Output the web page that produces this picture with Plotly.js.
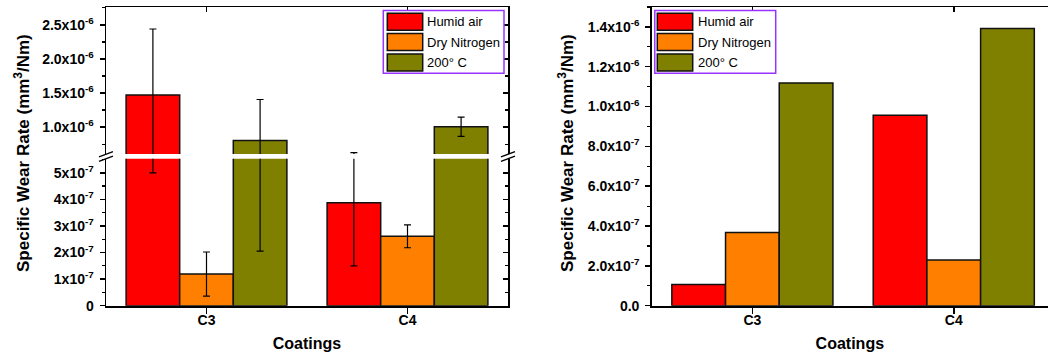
<!DOCTYPE html>
<html>
<head>
<meta charset="utf-8">
<script src="https://cdn.plot.ly/plotly-3.0.1.min.js"></script>
<style>html,body{margin:0;padding:0;background:#fff;}#chart{width:1048px;height:363px;}</style>
</head>
<body>
<div id="chart"></div>
<script>
// ---------- data ----------
const categories = ['C3', 'C4'];
const seriesNames = ['Humid air', 'Dry Nitrogen', '200\u00B0 C'];

// left panel (with error bars)
const leftHumid = [1.47e-6, 3.87e-7];
const leftHumidErr = [0.97e-6, 2.37e-7];
const leftNitrogen = [1.19e-7, 2.61e-7];
const leftNitrogenErr = [0.83e-7, 0.43e-7];
const left200 = [0.805e-6, 1.005e-6];
const left200Err = [0.60e-6, 0.14e-6];

// right panel
const rightHumid = [1.06e-7, 9.56e-7];
const rightNitrogen = [3.68e-7, 2.30e-7];
const right200 = [1.118e-6, 1.392e-6];

// tick labels
const lowerTickVals = [0, 1e-7, 2e-7, 3e-7, 4e-7, 5e-7];
const lowerTickText = ['0', '1x10<sup>-7</sup>', '2x10<sup>-7</sup>', '3x10<sup>-7</sup>', '4x10<sup>-7</sup>', '5x10<sup>-7</sup>'];
const upperTickVals = [1.0e-6, 1.5e-6, 2.0e-6, 2.5e-6];
const upperTickText = ['1.0x10<sup>-6</sup>', '1.5x10<sup>-6</sup>', '2.0x10<sup>-6</sup>', '2.5x10<sup>-6</sup>'];
const rightTickVals = [0, 2e-7, 4e-7, 6e-7, 8e-7, 1.0e-6, 1.2e-6, 1.4e-6];
const rightTickText = ['0.0', '2.0x10<sup>-7</sup>', '4.0x10<sup>-7</sup>', '6.0x10<sup>-7</sup>', '8.0x10<sup>-7</sup>', '1.0x10<sup>-6</sup>', '1.2x10<sup>-6</sup>', '1.4x10<sup>-6</sup>'];
const yTitle = 'Specific Wear Rate (mm<sup>3</sup>/Nm)';
const xTitle = 'Coatings';

// ---------- styles ----------
const colors = ['#ff0000', '#ff8000', '#808000'];
const FONT = 'Liberation Sans, Arial, Helvetica, sans-serif';
const W = 1048, H = 363;
const px = v => v / W;
const py = v => 1 - v / H;

const leftVals = [leftHumid, leftNitrogen, left200];
const leftErrs = [leftHumidErr, leftNitrogenErr, left200Err];
const rightVals = [rightHumid, rightNitrogen, right200];

const traces = [];
function barTrace(i, vals, errs, xa, ya) {
  const t = {
    type: 'bar', x: categories, y: vals, name: seriesNames[i],
    xaxis: xa, yaxis: ya, showlegend: false,
    marker: {color: colors[i], line: {color: '#111', width: 1.5}},
    hoverinfo: 'skip'
  };
  if (errs) t.error_y = {type: 'data', array: errs, visible: true, color: '#000', thickness: 1.2, width: 3.5};
  return t;
}
for (let i = 0; i < 3; i++) traces.push(barTrace(i, leftVals[i], leftErrs[i], 'x', 'y'));
for (let i = 0; i < 3; i++) traces.push(barTrace(i, leftVals[i], leftErrs[i], 'x2', 'y2'));
for (let i = 0; i < 3; i++) traces.push(barTrace(i, rightVals[i], null, 'x3', 'y5'));
// empty helper traces so the overlay (frame) axes get their own subplots
[['x', 'y3'], ['x2', 'y4'], ['x4', 'y5']].forEach(p => {
  traces.push({type: 'scatter', mode: 'lines', x: [null], y: [null], xaxis: p[0], yaxis: p[1], showlegend: false, hoverinfo: 'skip'});
});

const tickFont = {family: FONT, size: 14, color: '#000', weight: 'bold'};
const LDOM = [px(106), px(508)];
const RDOM = [px(651.7), 1];
const FULL = [py(305.7), py(7)];
const LOW = [py(305.7), py(158.7)];
const UP = [py(154), py(7)];
const lowRange = [0, 5.53e-7];
const upRange = [0.605e-6, 2.763e-6];
const xRangeL = [-0.5, 1.5];
const xRangeR = [-0.5, 1.468];

function yAxis(dom, anchor, range, tv, tt, minorDtick, extra) {
  return Object.assign({
    domain: dom, anchor: anchor, range: range, tickmode: 'array', tickvals: tv, ticktext: tt,
    ticks: 'outside', ticklen: 5, tickwidth: 1.5, tickcolor: '#000',
    minor: {tickmode: 'linear', tick0: 0, dtick: minorDtick, ticks: 'outside', ticklen: 3, tickwidth: 1.2, tickcolor: '#000', showgrid: false},
    showline: true, linecolor: '#000', linewidth: 1.5, showgrid: false, zeroline: false,
    tickfont: tickFont, ticklabelstandoff: 3, fixedrange: true
  }, extra || {});
}
function yOverlay(over, anchor, range, tv, minorDtick) {
  return {
    overlaying: over, side: 'right', anchor: anchor, range: range, tickmode: 'array', tickvals: tv,
    ticks: 'inside', ticklen: 5, tickwidth: 1.5, tickcolor: '#000', showticklabels: false,
    minor: {tickmode: 'linear', tick0: 0, dtick: minorDtick, ticks: 'inside', ticklen: 3, tickwidth: 1.2, tickcolor: '#000', showgrid: false},
    showline: true, linecolor: '#000', linewidth: 1.5, showgrid: false, zeroline: false, fixedrange: true
  };
}
const xTitleObj = {text: xTitle, font: {family: FONT, size: 16, weight: 'bold', color: '#000'}, standoff: 11};

const layout = {
  width: W, height: H, margin: {l: 0, r: 0, t: 0, b: 0},
  paper_bgcolor: '#fff', plot_bgcolor: '#fff', showlegend: false,
  barmode: 'group', bargap: 0.2, bargroupgap: 0,
  font: {family: FONT, color: '#000'},
  xaxis: {
    domain: LDOM, anchor: 'y', range: xRangeL, type: 'category',
    ticks: 'outside', ticklen: 6, tickwidth: 1.5, tickcolor: '#000', ticklabelstandoff: -6,
    showline: true, linecolor: '#000', linewidth: 2, showgrid: false, tickfont: tickFont, fixedrange: true,
    title: xTitleObj
  },
  xaxis2: {
    domain: LDOM, anchor: 'y2', side: 'top', range: xRangeL, type: 'category',
    ticks: 'inside', ticklen: 5, tickwidth: 1.5, tickcolor: '#000', showticklabels: false,
    showline: true, linecolor: '#000', linewidth: 1.5, showgrid: false, fixedrange: true
  },
  yaxis: yAxis(LOW, 'x', lowRange, lowerTickVals, lowerTickText, 0.5e-7),
  yaxis2: yAxis(UP, 'x2', upRange, upperTickVals, upperTickText, 0.25e-6),
  yaxis3: yOverlay('y', 'x', lowRange, lowerTickVals, 0.5e-7),
  yaxis4: yOverlay('y2', 'x2', upRange, upperTickVals, 0.25e-6),
  xaxis3: {
    domain: RDOM, anchor: 'y5', range: xRangeR, type: 'category',
    ticks: 'outside', ticklen: 6, tickwidth: 1.5, tickcolor: '#000', ticklabelstandoff: -6,
    showline: true, linecolor: '#000', linewidth: 2, showgrid: false, tickfont: tickFont, fixedrange: true,
    title: xTitleObj
  },
  xaxis4: {
    overlaying: 'x3', anchor: 'y5', side: 'top', range: xRangeR, type: 'linear',
    tickmode: 'array', tickvals: [0, 1], ticks: 'inside', ticklen: 5, tickwidth: 1.5, tickcolor: '#000',
    showticklabels: false, showline: true, linecolor: '#000', linewidth: 1.5, showgrid: false, zeroline: false, fixedrange: true
  },
  yaxis5: yAxis(FULL, 'x3', [0, 1.5e-6], rightTickVals, rightTickText, 1e-7),
  shapes: [],
  annotations: []
};

// axis break marks (decoration)
[106, 508].forEach(cx => {
  [-2.3, 2.3].forEach(dy => {
    layout.shapes.push({type: 'line', xref: 'paper', yref: 'paper',
      x0: px(cx - 7), y0: py(156.5 + dy + 2.6), x1: px(cx + 7), y1: py(156.5 + dy - 2.6),
      line: {color: '#000', width: 1.3}});
  });
});

// y titles (left one spans the broken axis)
[22, 566].forEach(cx => {
  layout.annotations.push({xref: 'paper', yref: 'paper', x: px(cx), y: py(153), text: yTitle,
    textangle: -90, showarrow: false, xanchor: 'center', yanchor: 'middle',
    font: {family: FONT, size: 17, weight: 'bold', color: '#000'}});
});

// manual legends
function legend(x0, x1, sx0, sx1, tx) {
  layout.shapes.push({type: 'rect', xref: 'paper', yref: 'paper', x0: px(x0), x1: px(x1), y0: py(73.3), y1: py(10.5),
    fillcolor: '#fff', line: {color: '#9933ff', width: 1.5}});
  const rows = [[13.3, 30.3], [33.6, 50.6], [54, 71]];
  rows.forEach((r, i) => {
    layout.shapes.push({type: 'rect', xref: 'paper', yref: 'paper', x0: px(sx0), x1: px(sx1), y0: py(r[1]), y1: py(r[0]),
      fillcolor: colors[i], line: {color: '#111', width: 1.5}});
    layout.annotations.push({xref: 'paper', yref: 'paper', x: px(tx), y: py((r[0] + r[1]) / 2), text: seriesNames[i],
      showarrow: false, xanchor: 'left', yanchor: 'middle', font: {family: FONT, size: 13, color: '#000'}});
  });
}
legend(383.3, 504, 387.3, 422.7, 424.5);
legend(654.8, 775.7, 657.3, 692.7, 695.5);

Plotly.newPlot('chart', traces, layout, {displayModeBar: false, staticPlot: true});
</script>
</body>
</html>
